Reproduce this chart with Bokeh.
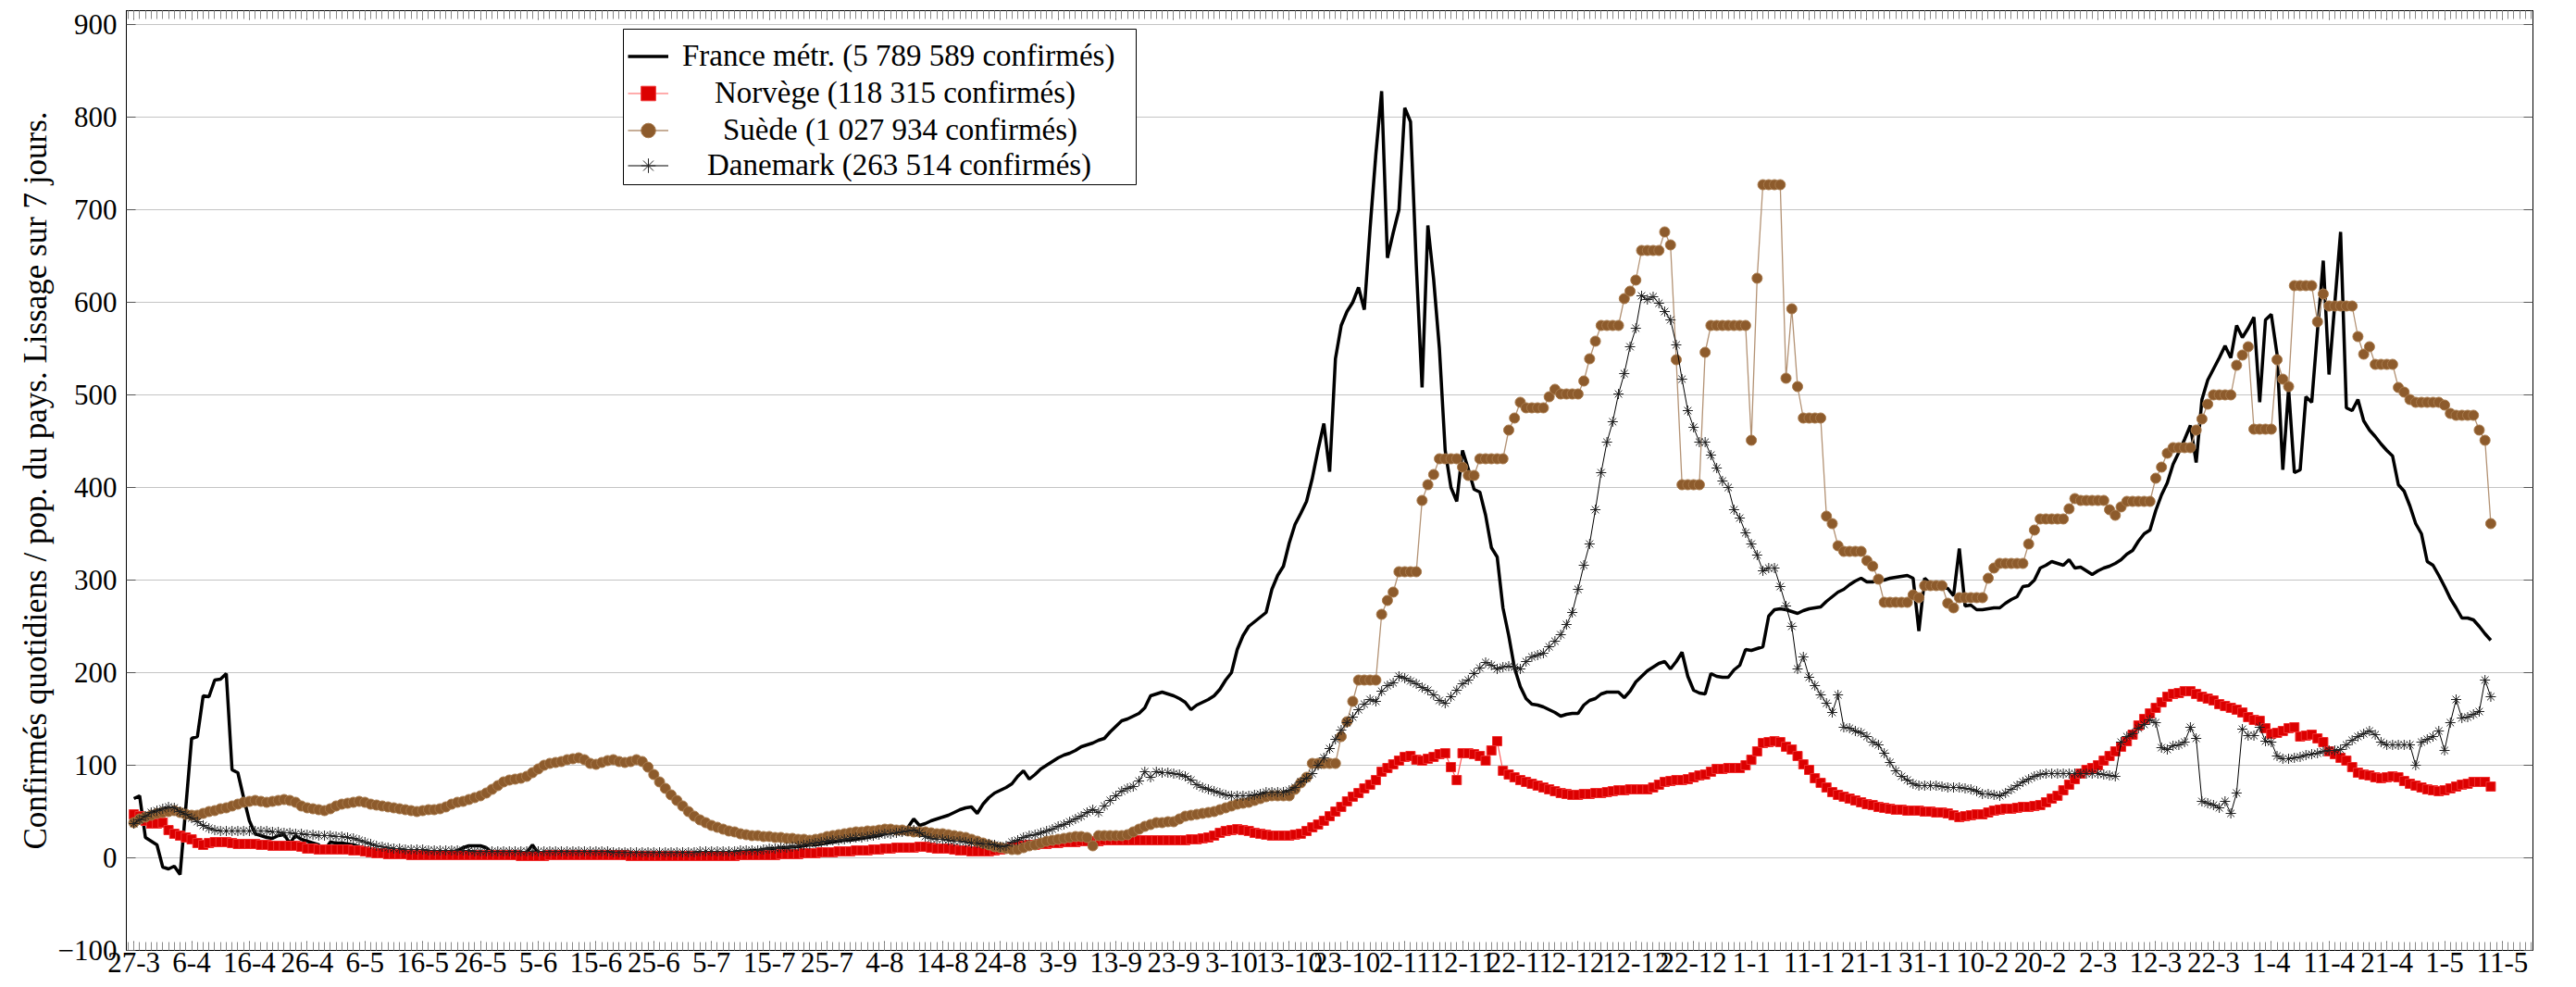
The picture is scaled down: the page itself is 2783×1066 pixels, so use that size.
from bokeh.plotting import figure
from bokeh.models import (Range1d, FixedTicker, LinearAxis, BoxAnnotation,
                          Legend, LegendItem)
from bokeh.embed import file_html
from bokeh.resources import INLINE

# ---------------- data (daily, starting 27-3-2020) ----------------
france = [
    64, 67, 22, 18, 14, -10, -12, -9, -18, 55,
    129, 131, 175, 174, 192, 193, 199, 95, 92, 65,
    40, 26, 24, 22, 21, 24, 25, 16, 24, 20,
    18, 16, 14, 8, 17, 16, 16, 15, 14, 12,
    10, 9, 9, 8, 8, 7, 7, 6, 6, 6,
    5, 5, 5, 5, 5, 6, 8, 11, 13, 13,
    13, 11, 6, 5, 5, 5, 5, 5, 6, 14,
    5, 5, 4, 4, 4, 4, 4, 4, 4, 4,
    4, 4, 4, 4, 4, 4, 4, 4, 4, 4,
    4, 4, 4, 4, 4, 4, 4, 3, 3, 4,
    4, 5, 5, 6, 6, 7, 7, 8, 8, 9,
    10, 10, 11, 11, 12, 12, 13, 14, 14, 15,
    16, 17, 18, 19, 19, 20, 21, 22, 23, 24,
    26, 27, 28, 30, 33, 42, 35, 37, 40, 42,
    44, 46, 49, 52, 54, 55, 48, 58, 65, 70,
    73, 76, 80, 88, 94, 85, 90, 96, 100, 104,
    108, 111, 113, 116, 120, 122, 124, 127, 129, 136,
    142, 148, 150, 153, 156, 162, 175, 177, 179, 177,
    175, 172, 168, 160, 165, 168, 171, 175, 182, 192,
    200, 225, 240, 250, 255, 260, 265, 290, 305, 315,
    340, 360, 372, 385, 410, 441, 469, 417, 539, 575,
    590, 600, 616, 592, 680, 760, 828, 648, 675, 700,
    810, 795, 640, 508, 683, 625, 550, 440, 400, 385,
    440, 420, 398, 395, 370, 335, 325, 270, 240, 205,
    185, 172, 166, 165, 163, 160, 157, 153, 155, 156,
    156, 165, 170, 172, 177, 179, 179, 179, 173, 180,
    190, 196, 202, 206, 210, 212, 204, 212, 222, 196,
    181, 178, 177, 199, 196, 195, 195, 203, 208, 225,
    224, 226, 228, 261, 268, 269, 268, 266, 264, 267,
    269, 270, 271, 277, 282, 287, 290, 295, 299, 302,
    298, 298, 300, 300, 302, 303, 304, 305, 302, 245,
    302, 296, 293, 292, 291, 283, 334, 272, 273, 268,
    268, 269, 270, 270, 275, 279, 282, 293, 294, 300,
    313, 316, 320, 318, 316, 322, 313, 314, 310, 306,
    310, 313, 315, 318, 322, 328, 332, 342, 350, 354,
    375, 392, 405, 425, 438, 452, 467, 427, 495, 516,
    528, 540, 553, 540, 575, 562, 572, 584, 492, 581,
    587, 544, 419, 507, 416, 419, 498, 492, 569, 645,
    522, 599, 676, 486, 483, 495, 472, 462, 455, 447,
    440, 434, 403, 396, 380, 361, 350, 320, 316, 305,
    293, 280, 270, 259, 259, 257, 250, 242, 235,
]

norvege = [
    47, 45, 40, 37, 37, 38, 30, 26, 24, 22,
    20, 16, 14, 16, 17, 17, 17, 16, 15, 15,
    15, 15, 14, 14, 13, 13, 13, 13, 13, 12,
    10, 10, 9, 9, 9, 9, 9, 9, 8, 8,
    7, 6, 5, 5, 4, 4, 4, 4, 3, 3,
    3, 3, 3, 3, 3, 3, 3, 3, 3, 3,
    3, 3, 3, 3, 3, 3, 3, 2, 2, 2,
    2, 2, 3, 3, 3, 3, 3, 3, 3, 3,
    3, 3, 3, 3, 3, 3, 2, 2, 2, 2,
    2, 2, 2, 2, 2, 2, 2, 2, 2, 2,
    2, 2, 2, 2, 2, 3, 3, 3, 3, 3,
    3, 3, 4, 4, 4, 4, 5, 5, 5, 6,
    6, 6, 7, 7, 7, 8, 8, 8, 9, 9,
    10, 10, 11, 11, 11, 11, 12, 12, 11, 10,
    10, 10, 9, 8, 8, 7, 7, 7, 7, 8,
    9, 10, 11, 12, 13, 14, 14, 15, 15, 16,
    16, 17, 17, 17, 18, 18, 18, 18, 19, 19,
    19, 19, 19, 19, 19, 19, 19, 19, 19, 19,
    19, 19, 19, 20, 20, 21, 22, 24, 27, 29,
    30, 31, 30, 29, 27, 26, 25, 24, 24, 24,
    24, 25, 26, 29, 33, 36, 40, 45, 50, 55,
    61, 66, 70, 75, 79, 84, 93, 97, 101, 105,
    109, 110, 106, 105, 107, 109, 112, 113, 98, 84,
    113, 113, 112, 110, 105, 116, 126, 94, 90, 87,
    84, 82, 80, 78, 76, 74, 72, 70, 69, 68,
    68, 69, 69, 70, 70, 71, 72, 73, 73, 74,
    74, 74, 74, 76, 79, 82, 83, 84, 84, 85,
    87, 89, 90, 93, 96, 96, 97, 97, 97, 100,
    106, 115, 124, 125, 126, 125, 120, 117, 110, 101,
    95, 86, 81, 76, 71, 68, 66, 64, 62, 60,
    58, 57, 55, 54, 53, 52, 52, 51, 51, 51,
    50, 50, 49, 49, 48, 46, 44, 45, 46, 47,
    47, 49, 51, 52, 53, 53, 54, 55, 55, 56,
    57, 60, 64, 67, 73, 79, 85, 91, 95, 97,
    100, 105, 110, 115, 120, 126, 133, 143, 150, 156,
    162, 168, 174, 177, 178, 180, 180, 177, 174, 172,
    170, 166, 164, 162, 160, 157, 152, 149, 148, 140,
    134, 135, 137, 140, 141, 131, 132, 133, 129, 125,
    115, 112, 108, 105, 98, 92, 90, 89, 87, 86,
    87, 88, 87, 83, 80, 78, 76, 74, 73, 72,
    73, 75, 77, 79, 80, 82, 82, 82, 77,
]

suede = [
    38, 42, 44, 46, 48, 49, 50, 51, 49, 47,
    46, 46, 48, 50, 51, 53, 54, 56, 58, 60,
    61, 62, 61, 60, 61, 62, 63, 62, 60, 56,
    54, 53, 52, 51, 53, 56, 58, 59, 60, 61,
    60, 58, 57, 56, 55, 54, 53, 52, 51, 50,
    51, 52, 52, 53, 55, 58, 60, 61, 63, 65,
    67, 70, 74, 78, 82, 84, 85, 86, 88, 92,
    96, 100, 102, 103, 104, 106, 107, 108, 106, 102,
    101, 103, 105, 106, 104, 103, 104, 106, 104, 98,
    90, 82, 75, 68, 62, 56, 50, 45, 41, 38,
    35, 33, 31, 29, 28, 26, 25, 24, 24, 23,
    23, 22, 22, 21, 21, 20, 20, 19, 20, 21,
    23, 24, 25, 26, 27, 28, 28, 29, 29, 30,
    31, 31, 30, 30, 29, 28, 28, 28, 27, 26,
    26, 25, 24, 23, 22, 20, 18, 16, 14, 12,
    11, 10, 9, 9, 11, 13, 14, 16, 18, 19,
    20, 21, 22, 23, 23, 22, 13, 24, 24, 24,
    24, 24, 25, 28, 31, 34, 36, 38, 38, 39,
    39, 42, 45, 46, 47, 48, 49, 50, 52, 54,
    56, 58, 59, 60, 62, 64, 66, 67, 67, 67,
    67, 74, 81, 87, 102, 102, 102, 102, 102, 131,
    147, 169, 192, 192, 192, 192, 263, 278, 287, 309,
    309, 309, 309, 386, 403, 414, 431, 431, 431, 431,
    422, 413, 413, 431, 431, 431, 431, 431, 462, 475,
    492, 486, 486, 486, 486, 498, 506, 501, 501, 501,
    501, 515, 539, 558, 575, 575, 575, 575, 604, 612,
    624, 656, 656, 656, 656, 676, 662, 538, 403, 403,
    403, 403, 546, 575, 575, 575, 575, 575, 575, 575,
    451, 626, 727, 727, 727, 727, 518, 593, 509, 475,
    475, 475, 475, 369, 361, 337, 331, 331, 331, 331,
    321, 315, 301, 276, 276, 276, 276, 276, 284, 281,
    294, 294, 294, 294, 275, 270, 281, 281, 281, 281,
    281, 302, 313, 318, 318, 318, 318, 318, 339, 354,
    366, 366, 366, 366, 366, 377, 388, 386, 386, 386,
    386, 386, 376, 370, 379, 385, 385, 385, 385, 385,
    410, 422, 437, 443, 443, 443, 443, 462, 474, 490,
    500, 500, 500, 500, 532, 543, 552, 463, 463, 463,
    463, 538, 517, 509, 618, 618, 618, 618, 579, 609,
    596, 596, 596, 596, 596, 563, 544, 552, 533, 533,
    533, 533, 508, 503, 495, 492, 492, 492, 492, 492,
    489, 480, 478, 478, 478, 478, 462, 451, 361,
]

danemark = [
    37, 41, 45, 49, 51, 53, 55, 54, 50, 47,
    43, 39, 35, 32, 30, 29, 29, 29, 29, 29,
    29, 29, 29, 29, 28, 28, 27, 27, 26, 26,
    25, 25, 24, 24, 24, 23, 23, 22, 21, 19,
    17, 15, 13, 12, 11, 10, 10, 9, 9, 9,
    9, 8, 8, 8, 8, 8, 8, 8, 8, 7,
    7, 7, 7, 7, 7, 7, 7, 7, 7, 7,
    7, 7, 7, 7, 7, 7, 7, 7, 7, 7,
    7, 7, 7, 6, 6, 6, 6, 6, 6, 6,
    6, 6, 6, 6, 6, 6, 6, 6, 7, 7,
    7, 7, 7, 7, 7, 8, 8, 8, 8, 9,
    10, 10, 11, 11, 12, 13, 14, 15, 16, 17,
    18, 19, 19, 20, 21, 22, 22, 23, 24, 25,
    26, 26, 27, 28, 29, 30, 27, 23, 21, 20,
    20, 19, 18, 18, 17, 16, 16, 15, 15, 14,
    12, 13, 17, 19, 22, 24, 25, 27, 29, 31,
    34, 36, 39, 42, 45, 49, 52, 49, 56, 62,
    67, 72, 75, 77, 83, 93, 87, 93, 92, 92,
    91, 90, 88, 84, 79, 76, 74, 72, 70, 68,
    67, 67, 67, 67, 68, 69, 71, 71, 71, 71,
    73, 76, 82, 86, 91, 100, 108, 118, 128, 138,
    146, 152, 160, 166, 171, 169, 180, 186, 189, 196,
    194, 191, 188, 184, 181, 176, 170, 167, 174, 181,
    188, 192, 199, 205, 211, 208, 204, 206, 207, 206,
    204, 212, 217, 219, 221, 228, 234, 241, 252, 265,
    290, 316, 339, 376, 416, 449, 471, 501, 523, 552,
    572, 607, 603, 606, 599, 590, 581, 554, 517, 483,
    465, 449, 449, 435, 421, 407, 400, 376, 367, 351,
    339, 327, 310, 313, 313, 293, 272, 250, 204, 217,
    195, 186, 176, 167, 157, 176, 141, 140, 137, 135,
    131, 125, 122, 113, 103, 94, 88, 84, 80, 78,
    78, 78, 78, 77, 76, 76, 76, 75, 74, 72,
    69, 69, 68, 67, 70, 74, 78, 82, 85, 88,
    90, 91, 91, 91, 91, 91, 91, 91, 91, 91,
    91, 90, 89, 88, 125, 131, 134, 140, 144, 149,
    146, 119, 117, 121, 122, 125, 141, 129, 61, 59,
    57, 54, 61, 48, 70, 139, 132, 132, 141, 126,
    125, 110, 107, 107, 108, 109, 111, 112, 113, 115,
    116, 116, 117, 122, 127, 131, 134, 137, 133, 125,
    122, 122, 122, 122, 122, 100, 125, 128, 131, 137,
    116, 146, 171, 151, 152, 155, 158, 192, 174,
]

tick_labels = ["27-3", "6-4", "16-4", "26-4", "6-5", "16-5", "26-5", "5-6", "15-6",
               "25-6", "5-7", "15-7", "25-7", "4-8", "14-8", "24-8", "3-9", "13-9",
               "23-9", "3-10", "13-10", "23-10", "2-11", "12-11", "22-11", "2-12",
               "12-12", "22-12", "1-1", "11-1", "21-1", "31-1", "10-2", "20-2", "2-3",
               "12-3", "22-3", "1-4", "11-4", "21-4", "1-5", "11-5"]
y_ticks = [-100, 0, 100, 200, 300, 400, 500, 600, 700, 800, 900]

names = ["France métr. (5 789 589 confirmés)", "Norvège (118 315 confirmés)",
         "Suède (1 027 934 confirmés)", "Danemark (263 514 confirmés)"]

# ---------------- figure ----------------
FONT = "Liberation Serif"
FS_TICK = "31px"
FS_TEXT = "33px"

p = figure(width=2775, height=1064,
           x_range=Range1d(-1.3, 415.3), y_range=Range1d(-100, 915),
           output_backend="svg", toolbar_location=None,
           min_border_left=136, min_border_right=39,
           min_border_top=11, min_border_bottom=38,
           outline_line_color="black", outline_line_width=1)

day_ticks = [10 * i for i in range(len(tick_labels))]
minor_days = list(range(-1, 416))
xticker = FixedTicker(ticks=day_ticks, minor_ticks=minor_days)
yticker = FixedTicker(ticks=y_ticks, minor_ticks=[])

xa = p.xaxis[0]
xa.ticker = xticker
xa.major_label_overrides = {t: l for t, l in zip(day_ticks, tick_labels)}
xa.major_tick_in = 10
xa.major_tick_out = 0
xa.minor_tick_in = 9
xa.minor_tick_out = 0
xa.minor_tick_line_color = "#8a8a8a"
xa.major_tick_line_color = "#555555"
xa.major_label_standoff = 2
xa.major_label_text_font = FONT
xa.major_label_text_font_size = FS_TICK
xa.major_label_text_color = "black"
xa.axis_line_color = "black"

ya = p.yaxis[0]
ya.ticker = yticker
ya.major_label_overrides = {-100: "\u2212100"}
ya.major_tick_in = 10
ya.major_tick_out = 0
ya.minor_tick_in = 0
ya.minor_tick_out = 0
ya.major_tick_line_color = "#555555"
ya.major_label_standoff = 10
ya.major_label_text_font = FONT
ya.major_label_text_font_size = FS_TICK
ya.major_label_text_color = "black"
ya.axis_label = "Confirmés quotidiens / pop. du pays. Lissage sur 7 jours."
ya.axis_label_text_font = FONT
ya.axis_label_text_font_size = "35px"
ya.axis_label_text_font_style = "normal"
ya.axis_label_text_color = "black"
ya.axis_label_standoff = 2
ya.axis_line_color = "black"

# frame axes on top and right: ticks only, no labels drawn
top = LinearAxis(ticker=xticker, major_label_text_font_size="1px",
                 major_label_text_color=None,
                 major_label_standoff=0, major_tick_in=10, major_tick_out=0,
                 minor_tick_in=9, minor_tick_out=0,
                 minor_tick_line_color="#8a8a8a", major_tick_line_color="#555555",
                 axis_line_color="black")
p.add_layout(top, "above")
right = LinearAxis(ticker=yticker, major_label_text_font_size="1px",
                   major_label_text_color=None,
                   major_label_standoff=0, major_tick_in=10, major_tick_out=0,
                   minor_tick_in=0, minor_tick_out=0,
                   major_tick_line_color="#555555", axis_line_color="black")
p.add_layout(right, "right")

p.xgrid.visible = False
p.ygrid.ticker = yticker
p.ygrid.grid_line_color = "#c4c4c4"
p.ygrid.grid_line_width = 1

# legend frame (screen units, relative to the plot frame), drawn under the glyphs
legend_box = BoxAnnotation(left=537, right=1091, bottom=827, top=995,
                           left_units="screen", right_units="screen",
                           bottom_units="screen", top_units="screen",
                           fill_color="white", fill_alpha=1.0,
                           line_color="black", line_width=1, line_alpha=1.0,
                           level="underlay")
p.add_layout(legend_box)

# ---------------- series ----------------
days = list(range(len(france)))

r_fr = p.line(days, france, line_color="black", line_width=3.5)

dn = list(range(len(norvege)))
r_no_l = p.line(dn, norvege, line_color="#ff5a5a", line_width=1.2)
r_no_m = p.scatter(dn, norvege, marker="square", size=10, fill_color="#dc0000",
                   line_color="#f03030", line_width=1)

ds = list(range(len(suede)))
r_se_l = p.line(ds, suede, line_color="#b39274", line_width=1.3)
r_se_m = p.scatter(ds, suede, marker="circle", size=11, fill_color="#8d5b2c",
                   line_color="#a87a4c", line_width=1)

dd = list(range(len(danemark)))
r_dk_l = p.line(dd, danemark, line_color="black", line_width=1)
r_dk_m = p.scatter(dd, danemark, marker="asterisk", size=11, line_color="#222222",
                   line_width=1)

# ---------------- legend: one row per entry so each label can be centred ----------------
entries = [
    (names[0], [r_fr], 15, 946),
    (names[1], [r_no_l, r_no_m], 50, 906),
    (names[2], [r_se_l, r_se_m], 59, 866),
    (names[3], [r_dk_l, r_dk_m], 42, 828),
]
for label, rends, standoff, ypos in entries:
    lg = Legend(items=[LegendItem(label=label, renderers=rends)],
                location=(542, ypos), margin=0, padding=6, spacing=0,
                glyph_width=44, glyph_height=39, label_standoff=standoff,
                label_text_font=FONT, label_text_font_size=FS_TEXT,
                label_text_color="black", border_line_color=None,
                background_fill_alpha=0.0)
    p.add_layout(lg)

open("out.html", "w").write(file_html(p, INLINE))
